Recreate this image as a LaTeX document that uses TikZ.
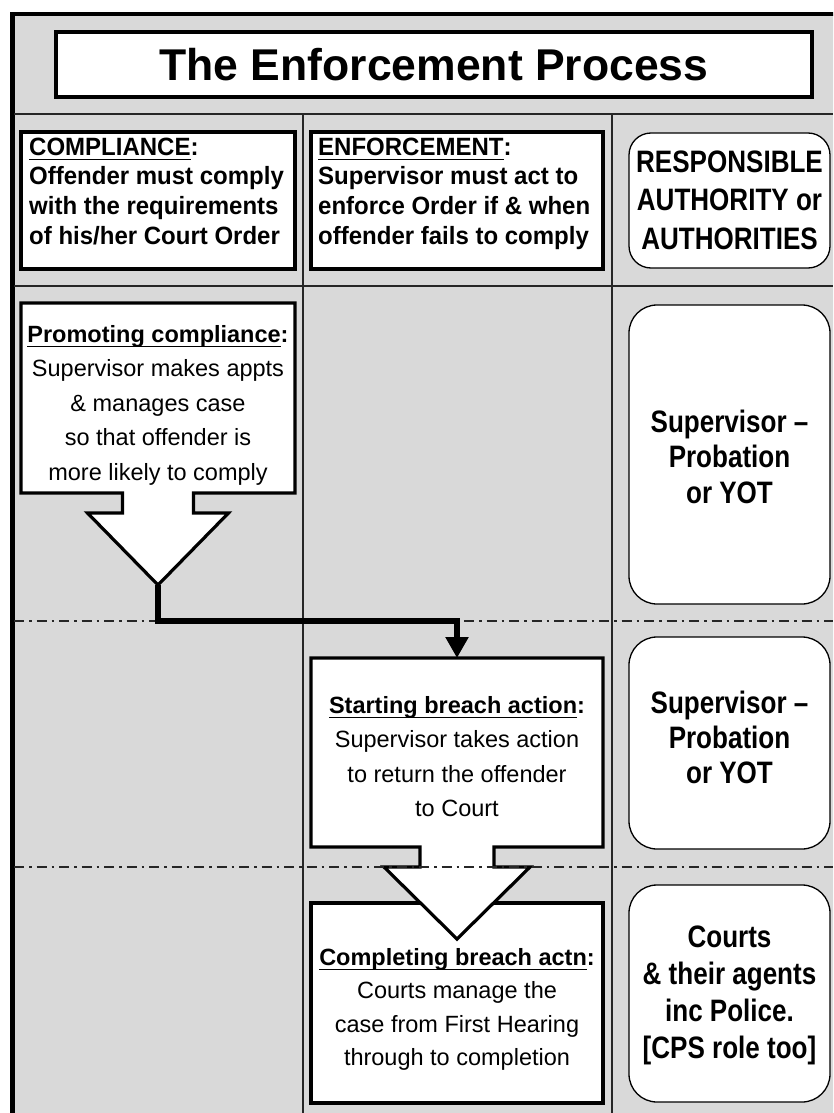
\documentclass[tikz,border=0pt]{standalone}
\usepackage{fontspec}
\setmainfont{Liberation Sans}
\newfontfamily\condsans{Liberation Sans}[FakeStretch=0.84]
\newfontfamily\hdsans{Liberation Sans}[FakeStretch=0.96]
\usetikzlibrary{arrows.meta}
\definecolor{bggray}{HTML}{D9D9D9}
\newcommand\myul[1]{\setbox0\hbox{#1}\rlap{\rule[-5pt]{\wd0}{1.6pt}}\box0}
\begin{document}
\begin{tikzpicture}[x=1pt,y=-1pt,
  gridline/.style={line width=1.5pt, draw=black!85},
  dashdot/.style={line width=1.5pt, draw=black!85, dash pattern=on 10pt off 5pt on 2.5pt off 5pt},
  sqbox/.style={draw=black, line width=3.2pt, fill=white, line join=miter},
  rbox/.style={draw=black, line width=1.3pt, fill=white, rounded corners=28pt},
  txt/.style={inner sep=0pt, align=center, anchor=north},
  hdtxt/.style={inner sep=0pt, align=left, anchor=north west, font=\hdsans\bfseries\fontsize{25}{29.7}\selectfont},
  body/.style={font=\fontsize{23.5}{34.5}\selectfont},
  authtxt/.style={inner sep=0pt, align=center, anchor=north},
  conn/.style={line width=6.5pt, -{Triangle[width=22pt,length=21pt]}, line join=miter}]
\useasboundingbox (0,0) rectangle (833,1113);
\clip (0,0) rectangle (833,1113);
\fill[white] (0,0) rectangle (833,1113);
% outer frame
\draw[line width=4.5pt, fill=bggray] (12.5,14) rectangle (860,1140);
% grid
\draw[gridline] (14,114) -- (833,114);
\draw[gridline] (14,286) -- (833,286);
\draw[gridline] (303,114) -- (303,1113);
\draw[gridline] (612,114) -- (612,1113);
% title
\draw[sqbox] (56,32) rectangle (812,97);
\node[inner sep=0pt, font=\bfseries\fontsize{44.5}{50}\selectfont] (title) at (434,65) {The Enforcement Process};
% header boxes
\draw[sqbox] (21,132) rectangle (295,269);
\node[hdtxt] (comp) at (29,137.5) {\myul{COMPLIANCE}:\\Offender must comply\\with the requirements\\of his/her Court Order};
\draw[sqbox] (311,132) rectangle (603,269);
\node[hdtxt] (enf) at (318,137.5) {\myul{ENFORCEMENT}:\\Supervisor must act to\\enforce Order if \& when\\offender fails to comply};
\draw[rbox, rounded corners=22pt] (629,133) rectangle (830,268);
\node[authtxt, font=\condsans\bfseries\fontsize{31}{38.5}\selectfont] (rauth) at (729.5,150.5) {RESPONSIBLE\\AUTHORITY or\\AUTHORITIES};
% right column boxes
\draw[rbox] (629,305) rectangle (830,604);
\node[authtxt, font=\condsans\bfseries\fontsize{31}{35.5}\selectfont] (r2) at (729.5,409.5) {Supervisor –\\Probation\\or YOT};
\draw[rbox] (629,637) rectangle (830,849);
\node[authtxt, font=\condsans\bfseries\fontsize{31}{35}\selectfont] (r3) at (729.5,690.5) {Supervisor –\\Probation\\or YOT};
\draw[rbox] (629,885) rectangle (830,1102);
\node[authtxt, font=\condsans\bfseries\fontsize{31}{37}\selectfont] (r4) at (729.5,925.5) {Courts\\\& their agents\\inc Police.\\{[CPS role too]}};
% promoting compliance (box with arrow)
\draw[sqbox] (21,303) -- (295,303) -- (295,493) -- (193.5,493) -- (193.5,513) -- (228.5,513)
  -- (158,585) -- (87.5,513) -- (122.5,513) -- (122.5,493) -- (21,493) -- cycle;
\coordinate (ptip) at (158,585);
\node[txt, body] (prom) at (158,325.2) {\textbf{\myul{Promoting compliance}:}\\Supervisor makes appts\\\& manages case\\so that offender is\\more likely to comply};
% completing breach box
\draw[sqbox] (311,903) rectangle (603,1103);
\node[txt, font=\fontsize{23.5}{33.5}\selectfont] (compl) at (457,947.9) {\textbf{\myul{Completing breach actn}:}\\Courts manage the\\case from First Hearing\\through to completion};
% starting breach box (with arrow)
\draw[sqbox] (311,658) -- (603,658) -- (603,847) -- (494,847) -- (494,867) -- (530,867)
  -- (457,939) -- (384,867) -- (420,867) -- (420,847) -- (311,847) -- cycle;
\coordinate (stop) at (457,658);
\node[txt, body] (start) at (457,695.9) {\textbf{\myul{Starting breach action}:}\\Supervisor takes action\\to return the offender\\to Court};
% dash-dot separators
\draw[dashdot] (14,621) -- (833,621);
\draw[dashdot] (14,867) -- (833,867);
% connector
\draw[conn] (ptip) -- ++(0,36) -| (stop);
\end{tikzpicture}
\end{document}
